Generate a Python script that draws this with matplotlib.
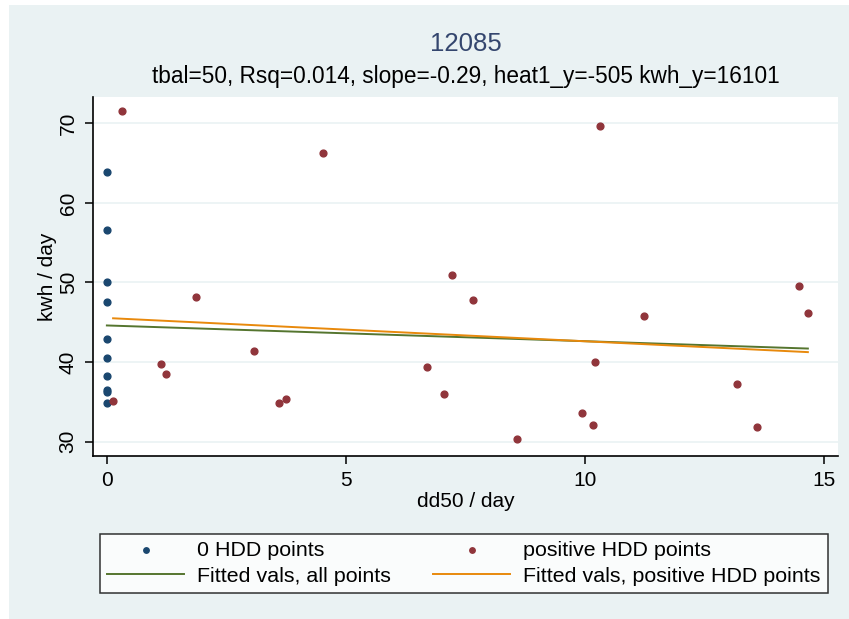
import matplotlib
matplotlib.use("Agg")
import matplotlib.pyplot as plt
import numpy as np

plt.rcParams['font.family'] = ['Liberation Sans', 'DejaVu Sans']

# 0 HDD points (all at dd50 = 0)
zero_x = [0, 0, 0, 0, 0, 0, 0, 0, 0, 0]
zero_y = [63.9, 56.6, 50.0, 47.6, 42.9, 40.5, 38.3, 36.5, 36.3, 34.8]

# positive HDD points
pos_x = [0.32, 0.13, 1.13, 1.24, 1.86, 3.08, 3.59, 3.74, 4.52,
         6.70, 7.04, 7.22, 7.66, 8.58, 9.94, 10.17, 10.20, 10.31,
         11.24, 13.18, 13.59, 14.48, 14.66]
pos_y = [71.6, 35.1, 39.8, 38.5, 48.2, 41.4, 34.9, 35.3, 66.3,
         39.4, 36.0, 50.9, 47.8, 30.3, 33.6, 32.1, 40.0, 69.6,
         45.8, 37.2, 31.8, 49.5, 46.2]

# fitted lines (end points)
fit_all_x = [0.0, 14.66]
fit_all_y = [44.6, 41.7]
fit_pos_x = [0.13, 14.66]
fit_pos_y = [45.5, 41.25]

xticks = [0, 5, 10, 15]
yticks = [30, 40, 50, 60, 70]

bg = '#eaf2f3'
navy = '#1a476f'
maroon = '#90353b'
green = '#55752f'
orange = '#e8890c'

fig = plt.figure(figsize=(8.49, 6.19), dpi=100)
fig.patches.append(plt.Rectangle((9 / 849, 0), 1, 1 - 5 / 619,
                                 transform=fig.transFigure, facecolor=bg,
                                 edgecolor='none', zorder=-10))

ax = fig.add_axes([93 / 849, 1 - 456 / 619, 745 / 849, 359 / 619])
ax.set_facecolor('white')

ax.plot(fit_all_x, fit_all_y, color=green, lw=1.4, zorder=2,
        label='Fitted vals, all points')
ax.plot(fit_pos_x, fit_pos_y, color=orange, lw=1.4, zorder=2,
        label='Fitted vals, positive HDD points')
ax.scatter(zero_x, zero_y, s=24, color=navy, zorder=3, label='0 HDD points')
ax.scatter(pos_x, pos_y, s=24, color=maroon, zorder=3,
           label='positive HDD points')

ax.set_xlim(-0.29, 15.29)
ax.set_ylim(28.2, 73.3)
ax.set_xticks(xticks)
ax.set_yticks(yticks)
ax.grid(axis='y', color=bg, lw=1.2)
ax.set_axisbelow(True)
for s in ['top', 'right']:
    ax.spines[s].set_visible(False)
ax.spines['left'].set_linewidth(1.2)
ax.spines['bottom'].set_linewidth(1.2)
ax.tick_params(direction='out', length=6, width=1.1, labelsize=15, pad=5)
for lab in ax.get_yticklabels():
    lab.set_rotation(90)
    lab.set_va('center')

ax.set_xlabel('dd50 / day', fontsize=15, labelpad=1)
ax.set_ylabel('kwh / day', fontsize=15, labelpad=1)

cx = (93 + 838) / 2 / 849
fig.text(cx, 1 - 44 / 619, '12085', ha='center', va='center',
         fontsize=18.5, color='#34466e')
fig.text(cx, 1 - 76 / 619,
         'tbal=50, Rsq=0.014, slope=-0.29, heat1_y=-505 kwh_y=16101',
         ha='center', va='center', fontsize=16.3)

h, l = ax.get_legend_handles_labels()
order = [2, 0, 3, 1]
leg = fig.legend([h[i] for i in order], [l[i] for i in order], ncol=2,
                 loc='lower left',
                 bbox_to_anchor=(100 / 849, 1 - 593 / 619, 728 / 849, 67 / 619),
                 mode='expand', fontsize=15.4, frameon=True, fancybox=False,
                 handlelength=3.6, handletextpad=0.6, columnspacing=1.4,
                 borderaxespad=0, borderpad=0.35, labelspacing=0.3,
                 markerscale=0.8)
leg.get_frame().set_edgecolor('black')
leg.get_frame().set_linewidth(1.1)

fig.savefig('out.png', dpi=100, facecolor='white')
